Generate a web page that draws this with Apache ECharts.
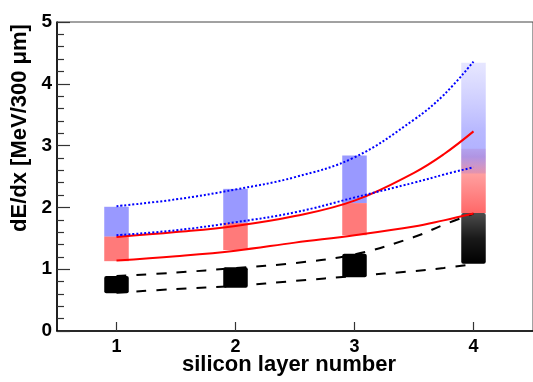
<!DOCTYPE html>
<html><head><meta charset="utf-8">
<script src="https://cdn.jsdelivr.net/npm/echarts@6/dist/echarts.min.js"></script>
<style>html,body{margin:0;padding:0;background:#fff}#c{width:533px;height:382px}</style>
</head><body><div id="c"></div>
<script>
// ---- data ----
const layers = [1, 2, 3, 4];
const xTickLabels = [1, 2, 3, 4];
const yTickLabels = [0, 1, 2, 3, 4, 5];

// cloud extents (dE/dx) per silicon layer
const blueLow   = [1.53, 1.75, 2.07, 2.55];
const blueHigh  = [2.01, 2.30, 2.84, 4.34];
const redLow    = [1.13, 1.31, 1.55, 1.91];
const redHigh   = [1.53, 1.75, 2.07, 2.95];
const blackLow  = [0.61, 0.70, 0.87, 1.09];
const blackHigh = [0.89, 1.03, 1.25, 1.91];

// band curves
const fitX        = [1, 1.5, 2, 2.5, 3, 3.5, 3.75, 4];
const blueUpper   = [2.02, 2.13, 2.29, 2.49, 2.81, 3.42, 3.82, 4.36];
const blueLower   = [1.55, 1.63, 1.76, 1.92, 2.16, 2.40, 2.53, 2.65];
const redUpper    = [1.52, 1.60, 1.70, 1.86, 2.11, 2.56, 2.86, 3.23];
const redLower    = [1.14, 1.21, 1.30, 1.43, 1.55, 1.69, 1.79, 1.90];
const blackUpper  = [0.89, 0.945, 1.02, 1.10, 1.24, 1.52, 1.72, 1.90];
const blackLower  = [0.62, 0.68, 0.73, 0.81, 0.89, 0.97, 1.02, 1.08];

// ---- chart ----
const FONT = '"Liberation Sans", Arial, Helvetica, sans-serif';
const HALF_W = 0.103;
const chart = echarts.init(document.getElementById('c'), null, {renderer: 'canvas'});

function grad(stops) {
  return new echarts.graphic.LinearGradient(0, 0, 0, 1,
    stops.map(s => ({offset: s[0], color: s[1]})));
}

function cloud(name, low, high, fillFn, r) {
  return {
    type: 'custom', name: name, z: 3,
    data: layers.map((l, i) => [l, low[i], high[i]]),
    encode: {x: 0, y: [1, 2]},
    renderItem: function (params, api) {
      const x = api.value(0), lo = api.value(1), hi = api.value(2);
      const p1 = api.coord([x - HALF_W, hi]);
      const p2 = api.coord([x + HALF_W, lo]);
      return {
        type: 'rect',
        shape: {x: p1[0], y: p1[1], width: p2[0] - p1[0], height: p2[1] - p1[1], r: r},
        style: {fill: fillFn(params.dataIndex)}
      };
    }
  };
}

function curve(name, ys, color, width, type, z) {
  return {
    type: 'line', name: name, z: z,
    data: fitX.map((x, i) => [x, ys[i]]),
    smooth: 0.4, showSymbol: false, symbol: 'none',
    lineStyle: {color: color, width: width, type: type},
    emphasis: {disabled: true}, silent: true
  };
}

const option = {
  animation: false,
  backgroundColor: '#fff',
  grid: {left: 57, right: -1, top: 22, bottom: 51, show: true, borderColor: '#444', borderWidth: 1},
  xAxis: {
    type: 'value', min: 0.5, max: 4.5,
    axisLine: {show: true, onZero: false, lineStyle: {color: '#000', width: 1.6}},
    axisTick: {show: true, inside: true, length: 9, customValues: xTickLabels, lineStyle: {color: '#333', width: 1.2}},
    axisLabel: {customValues: xTickLabels, fontSize: 18, fontWeight: 'bold', color: '#000', fontFamily: FONT, margin: 7},
    splitLine: {show: false}
  },
  yAxis: {
    type: 'value', min: 0, max: 5, interval: 1,
    axisLine: {show: true, lineStyle: {color: '#000', width: 1.6}},
    axisTick: {show: true, inside: true, length: 13, lineStyle: {color: '#333', width: 1.2}},
    minorTick: {show: true, splitNumber: 5, length: 7, lineStyle: {color: '#333', width: 1.2}},
    axisLabel: {
      fontSize: 19, fontWeight: 'bold', color: '#000', fontFamily: FONT, margin: 5,
      formatter: function (v) { return yTickLabels.indexOf(v) >= 0 ? String(v) : ''; }
    },
    splitLine: {show: false}
  },
  graphic: [
    {type: 'text', left: 182, top: 354,
     style: {text: 'silicon layer number', font: 'bold 22px ' + FONT, fill: '#000'}},
    {type: 'text', x: 20, y: 128, rotation: Math.PI / 2,
     style: {text: 'dE/dx [MeV/300 \u03bcm]', font: 'bold 22px ' + FONT, fill: '#000', align: 'center', verticalAlign: 'middle'}}
  ],
  series: [
    curve('black upper', blackUpper, '#000', 2, [10, 10], 2),
    curve('black lower', blackLower, '#000', 2, [10, 10], 2),
    cloud('red', redLow, redHigh, function (i) {
      return i === 3
        ? grad([[0, 'rgba(255,60,60,0.15)'], [0.35, 'rgba(255,50,50,0.45)'], [1, 'rgba(255,40,40,0.7)']])
        : 'rgba(255,40,40,0.62)';
    }, 0),
    cloud('blue', blueLow, blueHigh, function (i) {
      return i === 3
        ? grad([[0, 'rgba(120,120,255,0.18)'], [0.6, 'rgba(80,80,255,0.4)'], [0.85, 'rgba(80,80,255,0.45)'], [1, 'rgba(80,80,255,0.15)']])
        : 'rgba(70,70,255,0.55)';
    }, 0),
    cloud('black', blackLow, blackHigh, function (i) {
      return i === 3 ? grad([[0, 'rgba(0,0,0,0.7)'], [0.5, 'rgba(0,0,0,0.9)'], [1, 'rgba(0,0,0,1)']]) : '#000';
    }, 2),
    curve('red upper', redUpper, '#ff0000', 2, 'solid', 4),
    curve('red lower', redLower, '#ff0000', 2, 'solid', 4),
    curve('blue upper', blueUpper, '#0000ff', 2, [2, 2], 4),
    curve('blue lower', blueLower, '#0000ff', 2, [2, 2], 4)
  ]
};
chart.setOption(option);
</script>
</body></html>
